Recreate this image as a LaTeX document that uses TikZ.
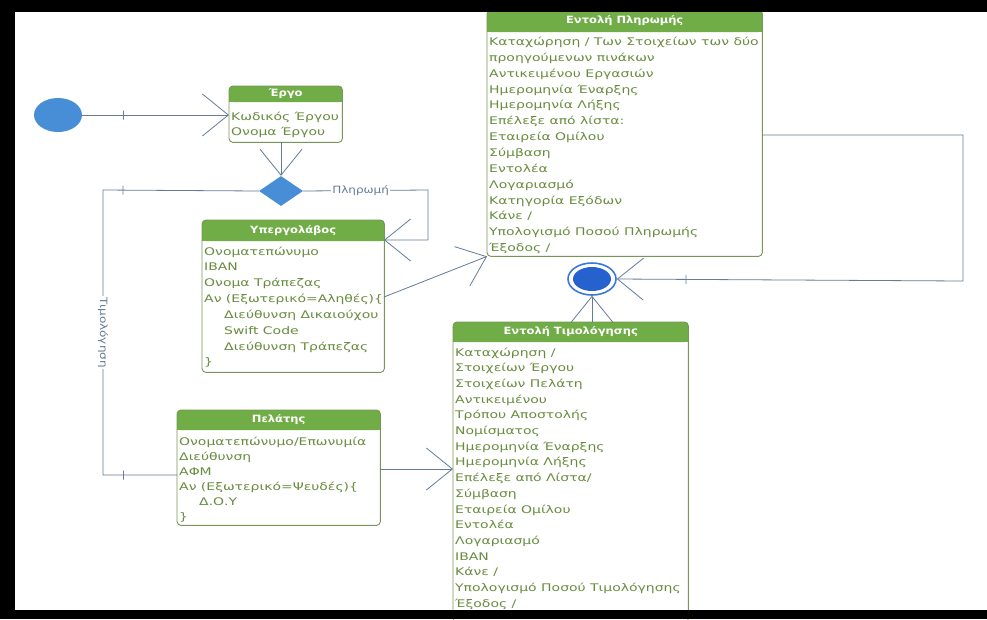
\documentclass[tikz,border=0pt]{standalone}
\usepackage{fontspec}
\usetikzlibrary{shapes.geometric,arrows.meta,calc}
\newfontfamily\rowfont[FakeStretch=1.33]{DejaVu Sans}
\newfontfamily\headfont[FakeStretch=1.15]{DejaVu Sans}
\newfontfamily\labfont[FakeStretch=1.2]{DejaVu Sans}
\definecolor{hdr}{RGB}{112,173,71}
\definecolor{boxc}{RGB}{120,150,90}
\definecolor{txtc}{RGB}{104,140,62}
\definecolor{linec}{RGB}{100,124,152}
\definecolor{nodeblue}{RGB}{72,142,214}
\definecolor{endblue}{RGB}{38,98,206}
\definecolor{ringblue}{RGB}{60,120,215}

% class box: name, north-west corner, width, height, header height, title
\newcommand\mkbox[6]{%
  \node[boxshape, minimum width=#3pt, minimum height=#4pt, anchor=north west] (#1) at (#2) {};
  \fill[hdr, rounded corners=4pt] (#1.north west) rectangle ([yshift=-#5pt]#1.north east);
  \fill[hdr] ([yshift=-#5pt+6pt]#1.north west) rectangle ([yshift=-#5pt]#1.north east);
  \draw[boxline, rounded corners=4pt] (#1.north west) rectangle (#1.south east);
  \node[headtxt] (#1-title) at ([yshift=-0.5*#5pt]#1.north) {#6};
}
% attribute rows: name, x, first baseline, pitch, list
\newcommand\mkrows[5]{%
  \foreach \t [count=\i from 0] in {#5}
    \node[rowtxt] (#1-r\i) at (#2,{#3+\i*#4}) {\t};
}

\begin{document}
\begin{tikzpicture}[x=1pt,y=-1pt,
  boxshape/.style={rectangle, fill=white, inner sep=0pt},
  boxline/.style={draw=boxc, line width=0.9pt},
  headtxt/.style={text=white, font=\headfont\bfseries\fontsize{10}{12}\selectfont, inner sep=0pt},
  rowtxt/.style={anchor=base west, inner sep=0pt, text=txtc, font=\rowfont\fontsize{10.5}{12}\selectfont},
  conn/.style={draw=linec, line width=0.8pt},
  arr/.style={-{Straight Barb[length=26pt,width=42pt,line width=0.8pt]}},
  tick/.style={draw=linec, line width=0.7pt, inner sep=0pt, minimum width=0pt, minimum height=9pt, sloped, allow upside down},
  lab/.style={fill=white, inner sep=1.5pt, text=linec, font=\labfont\fontsize{10}{12}\selectfont},
]
\fill[white] (0,0) rectangle (987,619);
\useasboundingbox (0,0) rectangle (987,619);

% activity boxes
\mkbox{ergo}{229,86}{113}{56}{16}{Έργο}
\mkrows{ergo}{231}{120}{15.3}{Κωδικός Έργου,%
Ονομα Έργου}

\mkbox{sub}{202,220}{182}{152}{21}{Υπεργολάβος}
\mkrows{sub}{204}{255}{15.85}{Ονοματεπώνυμο,%
IBAN,%
Ονομα Τράπεζας,%
Αν (Εξωτερικό=Αληθές)\{,%
\hspace*{20pt}Διεύθυνση Δικαιούχου,%
\hspace*{20pt}Swift Code,%
\hspace*{20pt}Διεύθυνση Τράπεζας,%
\}}

\mkbox{pel}{177,410}{203}{115}{20}{Πελάτης}
\mkrows{pel}{179}{445}{15}{Ονοματεπώνυμο/Επωνυμία,%
Διεύθυνση,%
ΑΦΜ,%
Αν (Εξωτερικό=Ψευδές)\{,%
\hspace*{20pt}Δ.Ο.Υ,%
\}}

\mkbox{pay}{487,10}{275}{246}{22}{Εντολή Πληρωμής}
\mkrows{pay}{489}{45.5}{15.85}{Καταχώρηση / Των Στοιχείων των δύο,%
προηγούμενων πινάκων,%
Αντικειμένου Εργασιών,%
Ημερομηνία Έναρξης,%
Ημερομηνία Λήξης,%
Επέλεξε από λίστα:,%
Εταιρεία Ομίλου,%
Σύμβαση,%
Εντολέα,%
Λογαριασμό,%
Κατηγορία Εξόδων,%
Κάνε /,%
Υπολογισμό Ποσού Πληρωμής,%
Έξοδος /}

\mkbox{inv}{453,322}{235}{300}{20}{Εντολή Τιμολόγησης}
\mkrows{inv}{455}{356}{15.7}{Καταχώρηση /,%
Στοιχείων Έργου,%
Στοιχείων Πελάτη,%
Αντικειμένου,%
Τρόπου Αποστολής,%
Νομίσματος,%
Ημερομηνία Έναρξης,%
Ημερομηνία Λήξης,%
Επέλεξε από Λίστα/,%
Σύμβαση,%
Εταιρεία Ομίλου,%
Εντολέα,%
Λογαριασμό,%
IBAN,%
Κάνε /,%
Υπολογισμό Ποσού Τιμολόγησης,%
Έξοδος /}

% initial node, decision and final node
\node[ellipse, fill=nodeblue, minimum width=48pt, minimum height=34pt, inner sep=0pt] (start) at (58,115) {};
\node[diamond, fill=nodeblue, minimum width=44pt, minimum height=30pt, inner sep=0pt] (dec) at (281,191) {};
\node[ellipse, draw=ringblue, line width=1.6pt, fill=white, minimum width=48pt, minimum height=32pt, inner sep=0pt] (end) at (592,279) {};
\node[ellipse, fill=endblue, minimum width=38pt, minimum height=24pt, inner sep=0pt] (endcore) at (end.center) {};

% routing points
\coordinate (pr) at (428,190);
\coordinate (subin) at (384,240);
\coordinate (lt) at (103,190);
\coordinate (lb) at (103,475);
\coordinate (subout) at (384,297);
\coordinate (pelout) at (380,469);
\coordinate (payout) at (762,135);
\coordinate (rt) at (963,135);
\coordinate (rb) at (963,281);

% flows
\draw[conn, arr] (start.east) -- node[tick, pos=0.28] (t1) {} (start.east -| ergo.west);
\draw[conn, arr] (dec.north |- ergo.south) -- (dec.north);
\draw[conn, arr] (dec.east) -- node[lab, pos=0.46] (lpay) {Πληρωμή} (pr) -- (pr |- subin) -- (subin);
\draw[conn] (dec.west) -- node[tick, pos=0.872] (t2) {} (lt)
  -- node[lab, rotate=-90] (linv) {Τιμολόγηση} (lb)
  -- node[tick, pos=0.27] (t3) {} (lb -| pel.west);
\draw[conn, arr] (subout) -- (pay.south west);
\draw[conn, arr] (pelout) -- (pelout -| inv.west);
\draw[conn, arr] (payout) -- (rt) -- (rb) -- node[tick, pos=0.8] (t4) {} (end.east);
\draw[conn, arr] (end.south |- inv.north) -- (end.south);

% frame bands
\fill[black] (0,0) rectangle (987,12);
\fill[black] (0,0) rectangle (15,619);
\fill[black] (0,610) rectangle (987,619);
\end{tikzpicture}
\end{document}
